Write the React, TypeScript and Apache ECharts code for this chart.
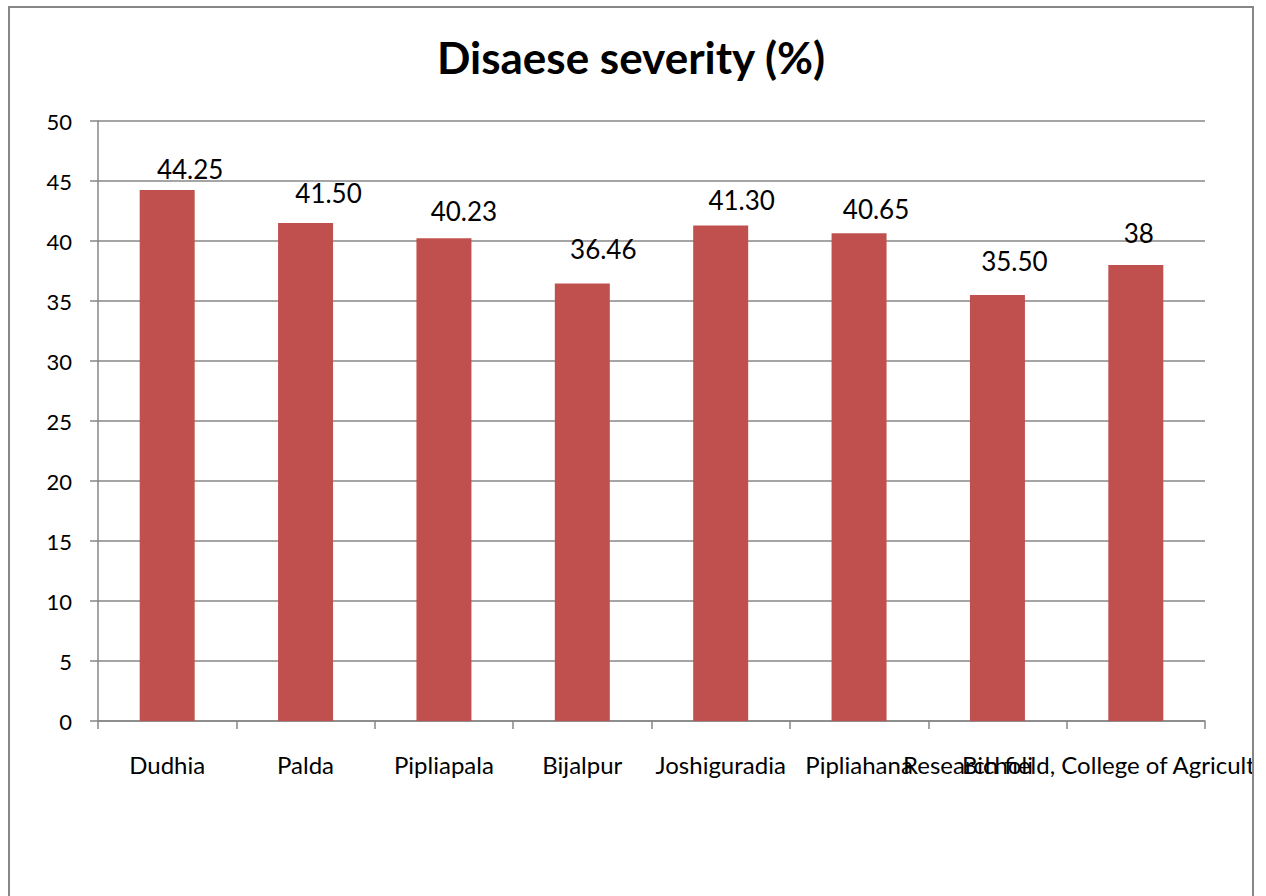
import React, { useEffect, useRef } from "react";
import * as echarts from "echarts";

const categories = [
  "Dudhia",
  "Palda",
  "Pipliapala",
  "Bijalpur",
  "Joshiguradia",
  "Pipliahana",
  "Bicholi",
  "Research field, College of Agriculture, Indore",
];
const severity = [44.25, 41.5, 40.23, 36.46, 41.3, 40.65, 35.5, 38];
const severityLabels = ["44.25", "41.50", "40.23", "36.46", "41.30", "40.65", "35.50", "38"];
const yTicks = { min: 0, max: 50, interval: 5 };
const titleText = "Disaese severity (%)";

// label nudges (px) as placed in the original
const labelOffsets: [number, number][] = [
  [23, -8],
  [23, -17],
  [20, -14],
  [21, -21],
  [21, -12],
  [17, -11],
  [17, -21],
  [3, -19],
];

const FONT = "Lato, 'Open Sans', sans-serif";
const GRAY = "#878787";

export default function App() {
  const ref = useRef<HTMLDivElement>(null);
  useEffect(() => {
    if (!ref.current) return;
    const chart = echarts.init(ref.current, undefined, { renderer: "svg" });
    chart.setOption({
      animation: false,
      textStyle: { fontFamily: FONT },
      title: {
        text: titleText,
        left: "center",
        top: 22,
        textStyle: { fontFamily: FONT, fontSize: 44, fontWeight: "bold", color: "#000" },
      },
      grid: {
        left: 88,
        top: 113,
        width: 1107,
        height: 600,
        containLabel: false,
        outerBoundsMode: "none",
      },
      xAxis: {
        type: "category",
        data: categories,
        axisLine: { show: true, lineStyle: { color: GRAY, width: 1.5 } },
        axisTick: { show: true, length: 8, lineStyle: { color: GRAY, width: 1.5 } },
        axisLabel: {
          interval: 0,
          margin: 31,
          fontSize: 24,
          color: "#000",
          fontFamily: FONT,
          hideOverlap: false,
        },
      },
      yAxis: {
        type: "value",
        min: yTicks.min,
        max: yTicks.max,
        interval: yTicks.interval,
        axisLine: { show: true, lineStyle: { color: GRAY, width: 1.5 } },
        axisTick: { show: true, length: 8, inside: false, lineStyle: { color: GRAY, width: 1.5 } },
        axisLabel: { margin: 26, fontSize: 22, color: "#000", fontFamily: FONT },
        splitLine: { show: true, lineStyle: { color: GRAY, width: 1.5 } },
      },
      series: [
        {
          type: "bar",
          barWidth: 55,
          data: severity.map((v, i) => ({
            value: v,
            label: {
              show: true,
              position: "top",
              distance: 0,
              offset: labelOffsets[i],
              formatter: severityLabels[i],
              fontSize: 26,
              color: "#000",
              fontFamily: FONT,
            },
          })),
          itemStyle: { color: "#C0504D" },
        },
      ],
    });
    return () => chart.dispose();
  }, []);

  return (
    <div
      style={{
        position: "fixed",
        left: 8,
        top: 6,
        width: 1246,
        height: 900,
        boxSizing: "border-box",
        border: `2px solid ${GRAY}`,
        background: "#fff",
        overflow: "hidden",
      }}
    >
      <div ref={ref} style={{ width: 1242, height: 896 }} />
    </div>
  );
}
